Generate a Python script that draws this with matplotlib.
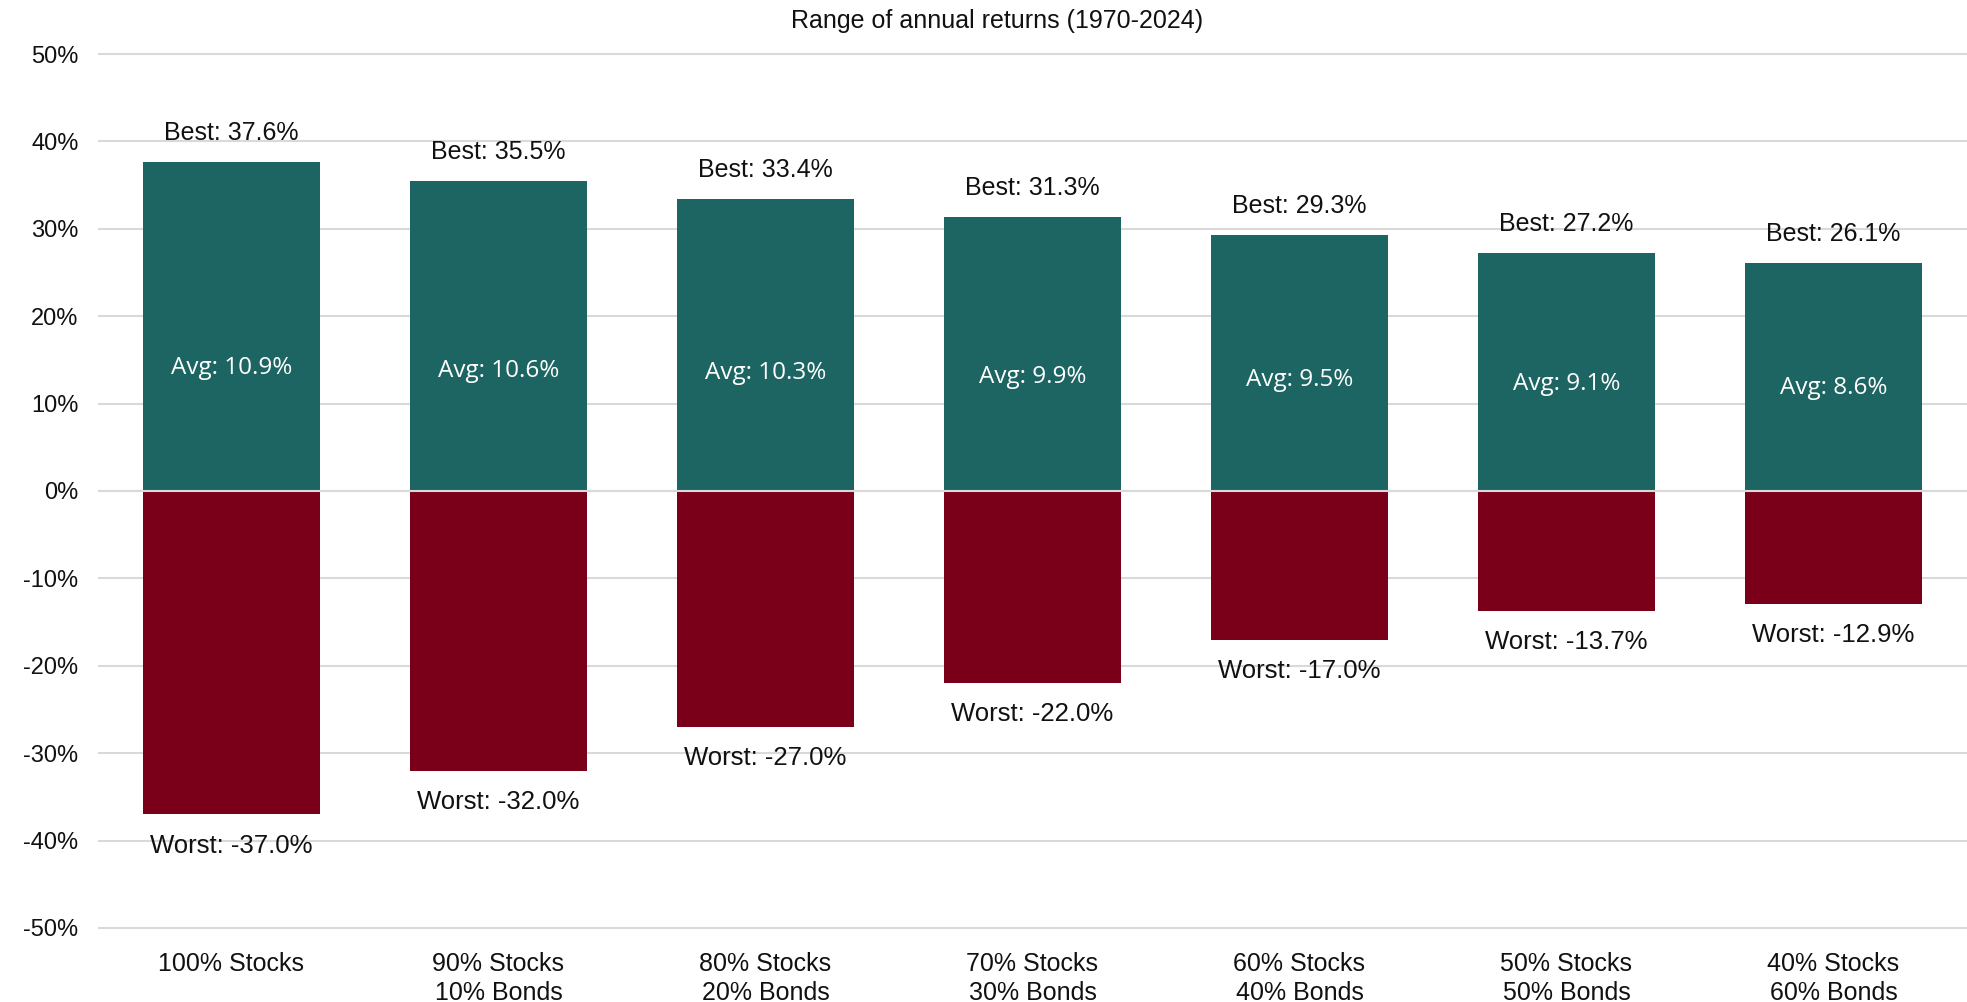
import matplotlib
matplotlib.use("Agg")
import matplotlib.pyplot as plt
from matplotlib import font_manager

categories = ["100% Stocks", "90% Stocks\n10% Bonds", "80% Stocks\n20% Bonds",
              "70% Stocks\n30% Bonds", "60% Stocks\n40% Bonds", "50% Stocks\n50% Bonds",
              "40% Stocks\n60% Bonds"]
best = [37.6, 35.5, 33.4, 31.3, 29.3, 27.2, 26.1]
avg = [10.9, 10.6, 10.3, 9.9, 9.5, 9.1, 8.6]
worst = [-37.0, -32.0, -27.0, -22.0, -17.0, -13.7, -12.9]
yticks = [-50, -40, -30, -20, -10, 0, 10, 20, 30, 40, 50]
title = "Range of annual returns (1970-2024)"

names = {f.name for f in font_manager.fontManager.ttflist}
main_font = "Liberation Sans Narrow" if "Liberation Sans Narrow" in names else "Liberation Sans"
avg_font = "Open Sans" if "Open Sans" in names else "DejaVu Sans"
plt.rcParams['font.family'] = [main_font, 'DejaVu Sans']

TEAL = "#1C6562"
RED = "#7A0019"
GRID = "#D9D9D9"

fig = plt.figure(figsize=(19.67, 10.02), dpi=100)
ax = fig.add_axes([0.0498, 0.0652, 0.9502, 0.8896])

x = list(range(len(categories)))
w = 0.663
ax.bar(x, avg, width=w, color=TEAL, linewidth=0, zorder=2)
ax.bar(x, [b - a for b, a in zip(best, avg)], bottom=avg, width=w, color=TEAL, linewidth=0, zorder=2)
ax.bar(x, worst, width=w, color=RED, linewidth=0, zorder=2)
ax.axhline(0, color=GRID, linewidth=1.5, zorder=3)

for xi, b, a, wv in zip(x, best, avg, worst):
    ax.annotate(f"Best: {b:.1f}%", (xi, b), xytext=(0, 21), textcoords="offset points",
                ha="center", va="center", fontsize=18, color="#111111")
    ax.annotate(f"Avg: {a:.1f}%", (xi, a), xytext=(0, 20), textcoords="offset points",
                ha="center", va="center", fontsize=17.5, color="white", family=[avg_font, 'DejaVu Sans'])
    ax.annotate(f"Worst: {wv:.1f}%", (xi, wv), xytext=(0, -22.5), textcoords="offset points",
                ha="center", va="center", fontsize=18.5, color="#111111")

ax.set_xlim(-0.5, 6.5)
ax.set_ylim(-51, 51)
ax.set_yticks(yticks)
ax.set_yticklabels([f"{t}%" for t in yticks], fontsize=17, color="#111111")
ax.set_xticks(x)
ax.set_xticklabels(categories, fontsize=18, color="#111111", linespacing=1.25)
ax.tick_params(axis="y", length=0, pad=14)
ax.tick_params(axis="x", length=0, pad=11)
ax.grid(axis="y", color=GRID, linewidth=1.5, zorder=0)
ax.set_axisbelow(True)
for s in ax.spines.values():
    s.set_visible(False)

fig.text(997 / 1967, 1 - 21 / 1002, title, ha="center", va="center", fontsize=18, color="#111111")

fig.savefig("out.png", dpi=100)
